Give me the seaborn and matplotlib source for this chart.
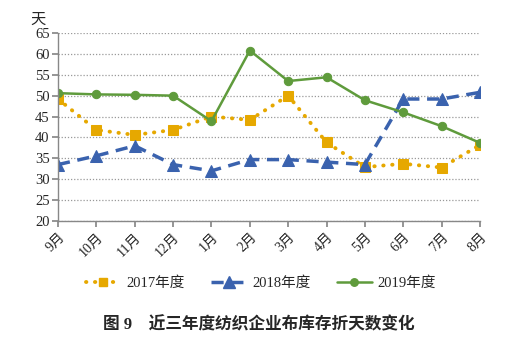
import matplotlib
matplotlib.use("Agg")
import matplotlib.pyplot as plt
import seaborn as sns
import pandas as pd
from matplotlib.lines import Line2D

months = ["9月", "10月", "11月", "12月", "1月", "2月", "3月", "4月", "5月", "6月", "7月", "8月"]
s2017 = [49.2, 41.8, 40.6, 41.8, 45.0, 44.2, 50.0, 38.8, 32.9, 33.7, 32.8, 38.2]
s2018 = [33.5, 35.6, 38.0, 33.5, 32.0, 34.7, 34.7, 34.1, 33.5, 49.2, 49.2, 50.8]
s2019 = [50.6, 50.3, 50.2, 50.0, 43.9, 60.8, 53.5, 54.4, 48.9, 46.0, 42.7, 38.7]
series_names = ["2017年度", "2018年度", "2019年度"]
yticks = [20, 25, 30, 35, 40, 45, 50, 55, 60, 65]
title = "图 9    近三年度纺织企业布库存折天数变化"

sns.set_theme(style="white")
plt.rcParams['font.family'] = ['Liberation Serif', 'Noto Sans CJK SC']

colors = {"2017年度": "#E6A800", "2018年度": "#3A62AE", "2019年度": "#5F9B3C"}
markers = {"2017年度": "s", "2018年度": "^", "2019年度": "o"}
msizes = {"2017年度": 7, "2018年度": 9, "2019年度": 6}

rows = []
for name, vals in zip(series_names, [s2017, s2018, s2019]):
    for i, v in enumerate(vals):
        rows.append({"idx": i, "month": months[i], "value": v, "series": name})
df = pd.DataFrame(rows)

fig = plt.figure(figsize=(5.07, 3.42), dpi=100)
ax = fig.add_axes([58/507, 1-221/342, (480-58)/507, (221-33)/342])

sns.lineplot(data=df, x="idx", y="value", hue="series", palette=colors,
             style="series", markers=markers, dashes=False, ax=ax, legend=False,
             sort=False)

styles = {"2017年度": dict(ls=(0, (0.1, 2.2)), lw=2.8, cap="round"),
          "2018年度": dict(ls=(0, (3.5, 2.2)), lw=2.5, cap="butt"),
          "2019年度": dict(ls="-", lw=1.8, cap="butt")}
for line, name in zip(ax.get_lines(), series_names):
    st = styles[name]
    line.set_linestyle(st["ls"])
    line.set_linewidth(st["lw"])
    line.set_dash_capstyle(st["cap"])
    line.set_markersize(msizes[name])
    line.set_markeredgecolor(colors[name])
    line.set_markerfacecolor(colors[name])

ax.set_xlim(0, 11)
ax.set_ylim(20, 65)
ax.set_yticks(yticks)
ax.set_xticks(range(len(months)))
ax.set_xticklabels(months, rotation=45, ha="right", rotation_mode="anchor",
                   fontsize=10)
ax.tick_params(axis="y", labelsize=10.5, length=4, color="#888888", left=True, pad=2)
ax.tick_params(axis="x", length=4, color="#888888", bottom=True, direction="out", pad=3)
ax.set_xlabel("")
ax.set_ylabel("")
ax.yaxis.grid(True, linestyle=(0, (1, 1.5)), color="#999999", lw=0.9)
ax.set_axisbelow(True)
for sp in ["top", "right"]:
    ax.spines[sp].set_visible(False)
for sp in ["left", "bottom"]:
    ax.spines[sp].set_color("#888888")
    ax.spines[sp].set_linewidth(1.0)

fig.text(38/507, 1-20/342, "天", fontsize=11, ha="center", va="center")

handles = []
for name in series_names:
    st = styles[name]
    h = Line2D([0], [0], color=colors[name], lw=st["lw"], ls=st["ls"],
               marker=markers[name], markersize=msizes[name]*0.9,
               markerfacecolor=colors[name], markeredgecolor=colors[name],
               dash_capstyle=st["cap"])
    handles.append(h)
fig.legend(handles, series_names, loc="center", bbox_to_anchor=(0.515, 1-283/342),
           ncol=3, frameon=False, fontsize=10.5, handlelength=2.4,
           columnspacing=1.8, handletextpad=0.4)

fig.text(0.51, 1-325/342, title, fontsize=12, fontweight="bold", ha="center", va="center")

fig.savefig("out.png", dpi=100)
